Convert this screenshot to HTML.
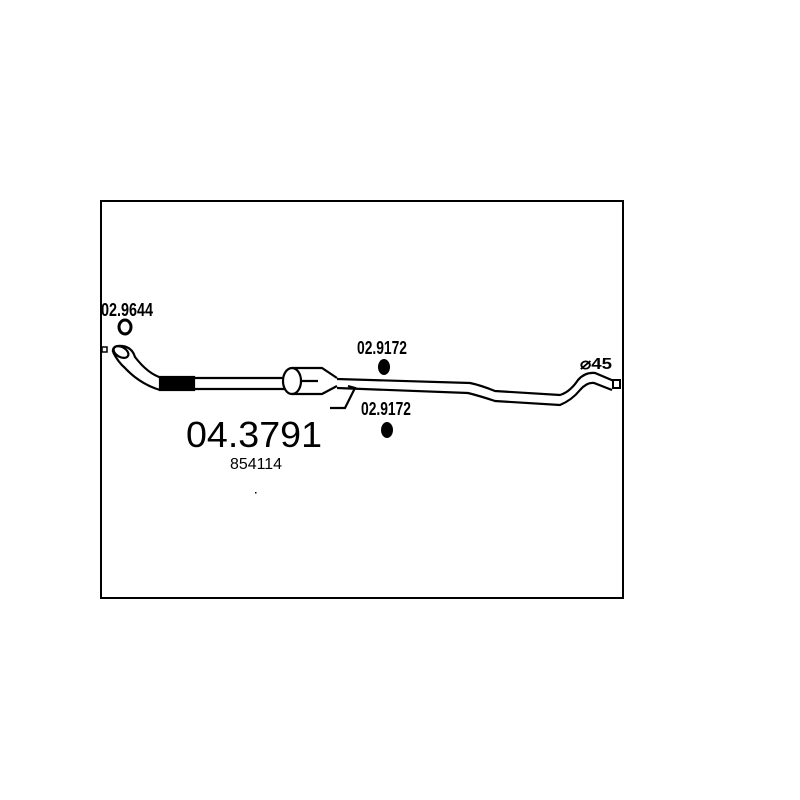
<!DOCTYPE html>
<html><head><style>body{margin:0;background:#fff}svg{display:block}</style></head><body>
<svg width="800" height="800" viewBox="0 0 800 800" xmlns="http://www.w3.org/2000/svg">
<rect width="800" height="800" fill="#fff"/>
<rect x="101" y="201" width="522" height="397" fill="none" stroke="#000" stroke-width="2"/>
<g fill="none" stroke="#000" stroke-width="2.2">
<path d="M113,352 Q112,345 122,346 Q132,347 135,357 Q148,374 162,378"/>
<path d="M113,352 Q118,362 125,368 Q140,384 160,390"/>
<ellipse cx="121" cy="352" rx="8" ry="5" transform="rotate(30 121 352)"/>
<rect x="160" y="377" width="34" height="13" fill="#000"/>
<path d="M194,378 L285,378 M194,389 L285,389"/>
<ellipse cx="292" cy="381" rx="9" ry="13" fill="#fff"/>
<path d="M292,368 L322,368 L337,378 M292,394 L322,394 L337,386"/>
<path d="M300,381 L318,381"/>
<path d="M337,379 L470,383 Q480,385 495,391 L560,395 Q570,392 578,380 Q585,372 595,373 L614,381"/>
<path d="M337,388 L468,393 Q480,396 495,401 L560,405 Q572,400 580,390 Q587,382 594,383 L612,390"/>
<path d="M330,408 L345,408 L355,388 L348,386"/>
</g>
<rect x="613" y="380" width="7" height="8" fill="#fff" stroke="#000" stroke-width="2"/>
<rect x="102" y="347" width="5" height="5" fill="#fff" stroke="#000" stroke-width="1.5"/>
<ellipse cx="125" cy="327" rx="6" ry="7" fill="none" stroke="#000" stroke-width="3"/>
<ellipse cx="384" cy="367" rx="6" ry="8" fill="#000"/>
<ellipse cx="387" cy="430" rx="6" ry="8" fill="#000"/>
<g font-family="Liberation Sans Narrow, Liberation Sans, sans-serif" fill="#000" font-weight="bold">
<text x="101" y="316" font-size="18" textLength="52" lengthAdjust="spacingAndGlyphs">02.9644</text>
<text x="357" y="354" font-size="18" textLength="50" lengthAdjust="spacingAndGlyphs">02.9172</text>
<text x="361" y="415" font-size="18" textLength="50" lengthAdjust="spacingAndGlyphs">02.9172</text>
<text x="580" y="369" font-size="16" textLength="32" lengthAdjust="spacingAndGlyphs">⌀45</text>
</g>
<g font-family="Liberation Sans, sans-serif" fill="#000">
<text x="186" y="447" font-size="36" textLength="136" lengthAdjust="spacingAndGlyphs">04.3791</text>
<text x="230" y="469" font-size="16" textLength="52" lengthAdjust="spacingAndGlyphs">854114</text>
</g>
<rect x="255" y="492" width="1.5" height="1.5" fill="#000"/>
</svg>
</body></html>
